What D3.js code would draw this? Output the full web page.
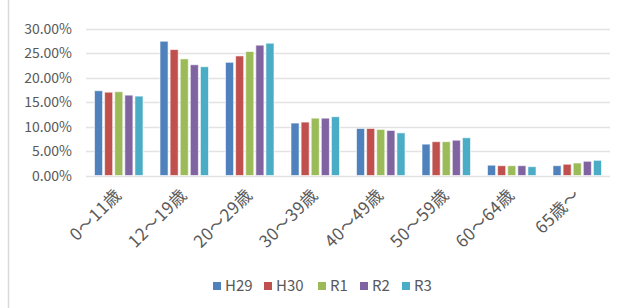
<!DOCTYPE html>
<html>
<head>
<meta charset="utf-8">
<script src="https://cdn.jsdelivr.net/npm/d3@7"></script>
<style>
  body { margin: 0; background: #fff; }
  text { font-family: "Noto Sans CJK JP", "Noto Sans", sans-serif; fill: #595959; }
</style>
</head>
<body>
<script>
// age groups and fiscal years
var categories = ['0～11歳', '12～19歳', '20～29歳', '30～39歳', '40～49歳', '50～59歳', '60～64歳', '65歳～'];
var years = ['H29', 'H30', 'R1', 'R2', 'R3'];

// share per age group (%), one array per year
var H29 = [17.3, 27.4, 23.1, 10.7, 9.6, 6.4, 2.1, 2.0];
var H30 = [17.0, 25.7, 24.4, 10.9, 9.6, 6.9, 2.0, 2.3];
var R1  = [17.1, 23.8, 25.3, 11.7, 9.4, 6.9, 2.0, 2.55];
var R2  = [16.4, 22.6, 26.6, 11.7, 9.2, 7.2, 2.0, 2.9];
var R3  = [16.2, 22.2, 27.0, 12.0, 8.7, 7.7, 1.8, 3.1];
var series = [H29, H30, R1, R2, R3];

var yTicks = [0, 5, 10, 15, 20, 25, 30];
var colors = ['#4F81BD', '#C0504D', '#9BBB59', '#8064A2', '#4BACC6'];

var width = 624, height = 308;

var svg = d3.select('body').append('svg')
  .attr('width', width)
  .attr('height', height);

// chart area border on the left
svg.append('line')
  .attr('x1', 8.5).attr('x2', 8.5)
  .attr('y1', 0).attr('y2', height)
  .attr('stroke', '#d9d9d9')
  .attr('stroke-width', 1.5);

var x0 = d3.scaleBand()
  .domain(categories)
  .range([86, 610]);

var x1 = d3.scaleBand()
  .domain(years)
  .range([0, 48.5])
  .paddingInner(0.2);

var groupOffset = (x0.bandwidth() - 48.5) / 2;

var y = d3.scaleLinear()
  .domain([0, 30])
  .range([175.5, 28.5]);

// grid lines
svg.append('g')
  .selectAll('line')
  .data(yTicks)
  .enter().append('line')
  .attr('x1', 86).attr('x2', 610)
  .attr('y1', function(d) { return Math.round(y(d)) + 0.5; })
  .attr('y2', function(d) { return Math.round(y(d)) + 0.5; })
  .attr('stroke', '#e3e3e3')
  .attr('stroke-width', 1.5);

// y tick labels
svg.append('g')
  .selectAll('text')
  .data(yTicks)
  .enter().append('text')
  .attr('x', 72)
  .attr('y', function(d) { return y(d); })
  .attr('dy', '0.36em')
  .attr('text-anchor', 'end')
  .style('font-size', '14px')
  .text(function(d) { return d.toFixed(2) + '%'; });

// bars
var groups = svg.append('g')
  .selectAll('g')
  .data(categories)
  .enter().append('g')
  .attr('transform', function(d) { return 'translate(' + (x0(d) + groupOffset) + ',0)'; });

groups.selectAll('rect')
  .data(function(d, i) {
    return years.map(function(yr, j) { return { year: yr, value: series[j][i], idx: j }; });
  })
  .enter().append('rect')
  .attr('x', function(d) { return x1(d.year); })
  .attr('y', function(d) { return y(d.value); })
  .attr('width', x1.bandwidth())
  .attr('height', function(d) { return y(0) - y(d.value); })
  .attr('fill', function(d) { return colors[d.idx]; })
  .attr('stroke', '#ffffff')
  .attr('stroke-opacity', 0.6)
  .attr('stroke-width', 1);

// rotated category labels
svg.append('g')
  .selectAll('text')
  .data(categories)
  .enter().append('text')
  .attr('transform', function(d) {
    return 'translate(' + (x0(d) + x0.bandwidth() / 2 + 4) + ',196) rotate(-45)';
  })
  .attr('text-anchor', 'end')
  .style('font-size', '17px')
  .style('letter-spacing', '0.5px')
  .text(function(d) { return d; });

// legend
var legendX = [213, 264, 318, 360, 402];
var legend = svg.append('g')
  .selectAll('g')
  .data(years)
  .enter().append('g')
  .attr('transform', function(d, i) { return 'translate(' + legendX[i] + ',282)'; });

legend.append('rect')
  .attr('width', 8).attr('height', 8)
  .attr('fill', function(d, i) { return colors[i]; });

legend.append('text')
  .attr('x', 12)
  .attr('y', 4)
  .attr('dy', '0.36em')
  .style('font-size', '15px')
  .text(function(d) { return d; });
</script>
</body>
</html>
